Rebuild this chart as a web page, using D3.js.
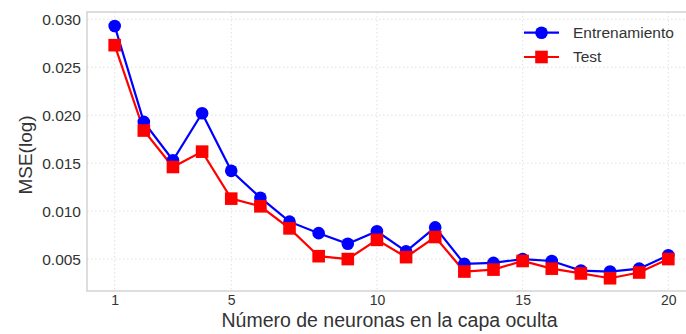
<!DOCTYPE html>
<html><head><meta charset="utf-8">
<script src="https://cdn.jsdelivr.net/npm/d3@7"></script>
<style>body{margin:0;background:#fff;} svg{display:block;font-family:"Liberation Sans",Arial,sans-serif;}</style>
</head><body>
<svg id="c" width="686" height="334"></svg>
<script>
const neurons = d3.range(1, 21);
const train = [0.0293,0.0193,0.0153,0.0202,0.0142,0.0114,0.0089,0.0077,0.0066,0.0079,0.0058,0.0083,0.0045,0.0046,0.0050,0.0048,0.0038,0.0037,0.0040,0.0054];
const test  = [0.0273,0.0184,0.0146,0.0162,0.0113,0.0105,0.0082,0.0053,0.0050,0.0070,0.0052,0.0073,0.0037,0.0039,0.0048,0.0040,0.0035,0.0030,0.0036,0.0050];
const xTicks = [1,5,10,15,20];
const yTicks = [0.005,0.010,0.015,0.020,0.025,0.030];
const seriesNames = ["Entrenamiento","Test"];
const colors = ["#0000ff","#ff0000"];

const svg = d3.select("#c");
const L = 87, R = 696, T = 12, B = 291;
const x = d3.scaleLinear().domain([0.05, 20.95]).range([L, R]);
const y = d3.scaleLinear().domain([0.00167, 0.03076]).range([B, T]);

// grid
const g = svg.append("g");
g.selectAll(".gx").data(xTicks).enter().append("line")
  .attr("x1", d=>x(d)).attr("x2", d=>x(d)).attr("y1", T).attr("y2", B)
  .attr("stroke","#dcdcdc").attr("stroke-width",0.9).attr("stroke-dasharray","1.5,2.5");
g.selectAll(".gy").data(yTicks).enter().append("line")
  .attr("x1", L).attr("x2", R).attr("y1", d=>y(d)).attr("y2", d=>y(d))
  .attr("stroke","#dcdcdc").attr("stroke-width",0.9).attr("stroke-dasharray","1.5,2.5");

// frame
svg.append("rect").attr("x",L).attr("y",T).attr("width",R-L).attr("height",B-T)
  .attr("fill","none").attr("stroke","#cccccc").attr("stroke-width",1.3);

// axes (labels only)
const xAxis = d3.axisBottom(x).tickValues(xTicks).tickFormat(d3.format("d")).tickSize(0).tickPadding(4);
const xa = svg.append("g").attr("transform",`translate(0,${B})`).call(xAxis);
xa.select(".domain").remove();
xa.selectAll("text").attr("font-size","14px").attr("fill","#333").attr("font-family","Liberation Sans, Arial, sans-serif");

const yAxis = d3.axisLeft(y).tickValues(yTicks).tickFormat(d3.format(".3f")).tickSize(0).tickPadding(6);
const ya = svg.append("g").attr("transform",`translate(${L},0)`).call(yAxis);
ya.select(".domain").remove();
ya.selectAll("text").attr("font-size","15.5px").attr("fill","#333").attr("font-family","Liberation Sans, Arial, sans-serif");

// lines
const line = d3.line().x((d,i)=>x(neurons[i])).y(d=>y(d));
[train, test].forEach((s, k) => {
  svg.append("path").datum(s).attr("d", line).attr("fill","none")
    .attr("stroke", colors[k]).attr("stroke-width", 2.2);
});
svg.selectAll(".dot").data(train).enter().append("circle")
  .attr("cx",(d,i)=>x(neurons[i])).attr("cy",d=>y(d)).attr("r",6.3).attr("fill",colors[0]);
svg.selectAll(".sq").data(test).enter().append("rect")
  .attr("x",(d,i)=>x(neurons[i])-6.3).attr("y",d=>y(d)-6.3).attr("width",12.6).attr("height",12.6).attr("fill",colors[1]);

// axis titles
svg.append("text").attr("x",(L+R)/2 - 2).attr("y",327).attr("text-anchor","middle")
  .attr("font-size","19.5px").attr("fill","#333").text("Número de neuronas en la capa oculta");
svg.append("text").attr("transform","translate(32,155) rotate(-90)").attr("text-anchor","middle")
  .attr("font-size","19px").attr("fill","#333").text("MSE(log)");

// legend
const lg = svg.append("g");
const ly = [32.7, 57];
seriesNames.forEach((n,k) => {
  lg.append("line").attr("x1",524).attr("x2",559).attr("y1",ly[k]).attr("y2",ly[k])
    .attr("stroke",colors[k]).attr("stroke-width",2.2);
  if (k===0) lg.append("circle").attr("cx",541.5).attr("cy",ly[k]).attr("r",6.3).attr("fill",colors[k]);
  else lg.append("rect").attr("x",541.5-6.3).attr("y",ly[k]-6.3).attr("width",12.6).attr("height",12.6).attr("fill",colors[k]);
  lg.append("text").attr("x",573).attr("y",ly[k]).attr("dy","0.35em").attr("font-size","15.5px").attr("fill","#333").text(n);
});
</script>
</body></html>
